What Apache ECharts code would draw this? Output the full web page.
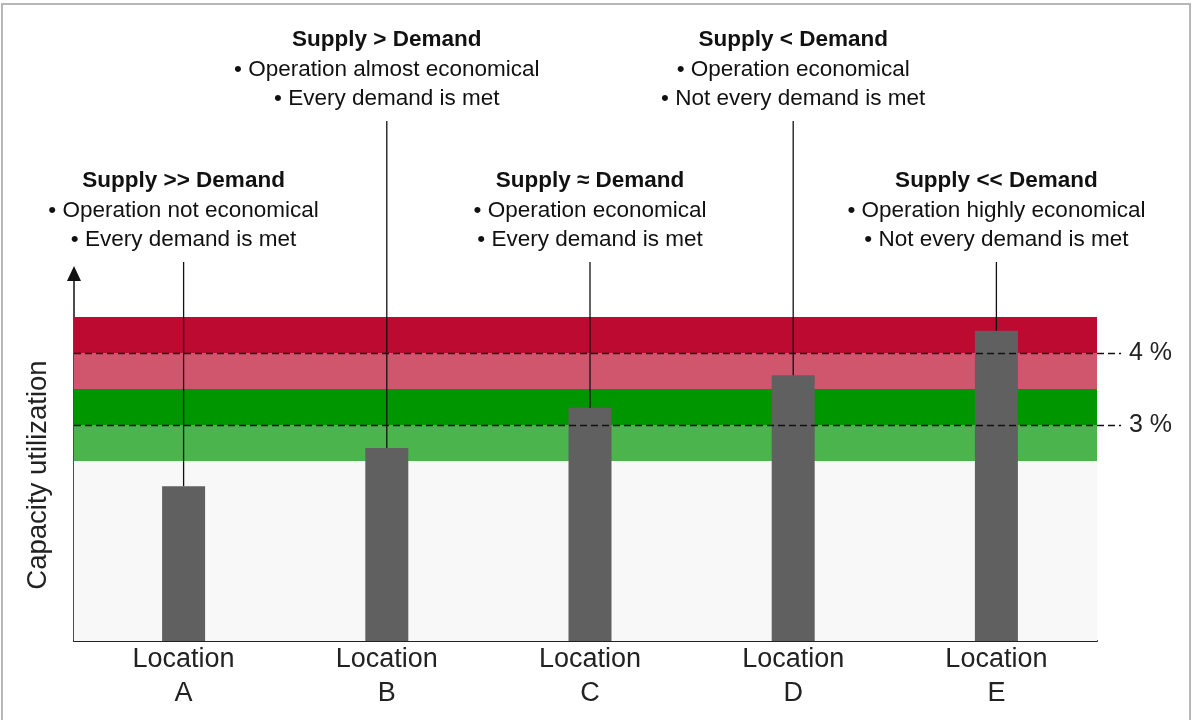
<!DOCTYPE html>
<html>
<head>
<meta charset="utf-8">
<script src="https://cdn.jsdelivr.net/npm/echarts@6/dist/echarts.min.js"></script>
<style>
  html, body { margin: 0; padding: 0; background: #fff; overflow: hidden; }
  #chart { position: absolute; left: 0; top: 0; width: 1192px; height: 720px; }
  #frame { position: absolute; left: 1px; top: 3px; width: 1186px; height: 730px;
           border: 2px solid #b8b8b8; pointer-events: none; }
</style>
</head>
<body>
<div id="chart"></div>
<div id="frame"></div>
<script>
// Locations and their capacity utilization (%)
const locations = ['A', 'B', 'C', 'D', 'E'];
const utilization = [2.15, 2.68, 3.24, 3.69, 4.31];

// Annotation text per location
const headlines = ['Supply >> Demand', 'Supply > Demand', 'Supply \u2248 Demand', 'Supply < Demand', 'Supply << Demand'];
const economics = ['Operation not economical', 'Operation almost economical', 'Operation economical', 'Operation economical', 'Operation highly economical'];
const coverage = ['Every demand is met', 'Every demand is met', 'Every demand is met', 'Not every demand is met', 'Not every demand is met'];

// Utilization zones (lower edge, upper edge)
const zoneEdges = [0, 2.5, 3, 3.5, 4, 4.5];
const zoneColors = ['#f8f8f8', '#4bb44d', '#009600', '#d0566e', '#bc0a30'];

// Reference thresholds
const thresholds = [3, 4];
const thresholdLabels = ['3 %', '4 %'];

const FONT = 'Liberation Sans, Arial, sans-serif';
const Y_MIN = 0, Y_MAX = 5;

const chart = echarts.init(document.getElementById('chart'), null, { renderer: 'canvas' });

const zoneAreas = zoneColors.map((c, i) => [
  { yAxis: zoneEdges[i], itemStyle: { color: c } },
  { yAxis: zoneEdges[i + 1] }
]);

const annotationData = utilization.map((v, i) => [i, v]);

// vertical placement of the annotation blocks (title centre), alternating rows
const ROW_Y = [181, 40];
const LINE_H = 29.5;

function renderAnnotation(params, api) {
  const i = api.value(0);
  const top = api.coord([i, api.value(1)]);
  const x = top[0];
  const y0 = ROW_Y[i % 2];
  const txt = (t, y, bold) => ({
    type: 'text',
    style: {
      text: t, x: x, y: y, align: 'center', verticalAlign: 'middle',
      fontFamily: FONT, fontSize: 22.5, fontWeight: bold ? 'bold' : 'normal', fill: '#111'
    }
  });
  return {
    type: 'group',
    children: [
      {
        type: 'line',
        shape: { x1: x, y1: y0 + 2 * LINE_H + 22, x2: x, y2: top[1] },
        style: { stroke: '#111', lineWidth: 1.3 }
      },
      txt(headlines[i], y0, true),
      txt('\u2022 ' + economics[i], y0 + LINE_H, false),
      txt('\u2022 ' + coverage[i], y0 + 2 * LINE_H, false)
    ]
  };
}

const option = {
  animation: false,
  backgroundColor: '#ffffff',
  grid: [
    // zones and axes
    { left: 74, right: 95, top: 281, bottom: 79 },
    // bars
    { left: 82, right: 94, top: 281, bottom: 79 },
    // threshold lines
    { left: 74, right: 71, top: 281, bottom: 79 }
  ],
  xAxis: [
    {
      gridIndex: 0, type: 'value', min: 0, max: 1,
      axisLine: { show: true, onZero: false, lineStyle: { color: '#222', width: 2 } },
      axisTick: { show: false }, axisLabel: { show: false }, splitLine: { show: false }
    },
    {
      gridIndex: 1, type: 'category', data: locations,
      axisLine: { show: false }, axisTick: { show: false }, splitLine: { show: false },
      axisLabel: {
        formatter: 'Location\n{value}', fontFamily: FONT, fontSize: 27,
        lineHeight: 34, color: '#222', margin: 2
      }
    },
    {
      gridIndex: 2, type: 'value', min: 0, max: 1, show: false
    }
  ],
  yAxis: [
    {
      gridIndex: 0, type: 'value', min: Y_MIN, max: Y_MAX,
      axisLine: {
        show: true, lineStyle: { color: '#111', width: 1.5 },
        symbol: ['none', 'triangle'], symbolSize: [14, 15], symbolOffset: [0, 7.5]
      },
      axisTick: { show: false }, axisLabel: { show: false }, splitLine: { show: false },
      name: 'Capacity utilization', nameLocation: 'middle', nameGap: 22,
      nameTextStyle: { fontFamily: FONT, fontSize: 27.5, color: '#222', padding: [0, 28, 0, 0] }
    },
    { gridIndex: 1, type: 'value', min: Y_MIN, max: Y_MAX, show: false },
    { gridIndex: 2, type: 'value', min: Y_MIN, max: Y_MAX, show: false }
  ],
  series: [
    {
      name: 'zones', type: 'line', xAxisIndex: 0, yAxisIndex: 0, data: [],
      z: 1, silent: true,
      markArea: { silent: true, data: zoneAreas }
    },
    {
      name: 'utilization', type: 'bar', xAxisIndex: 1, yAxisIndex: 1,
      data: utilization, barWidth: 43, z: 3,
      itemStyle: { color: '#606060' }
    },
    {
      name: 'thresholds', type: 'line', xAxisIndex: 2, yAxisIndex: 2, data: [],
      z: 5, silent: true,
      markLine: {
        silent: true, symbol: ['none', 'none'],
        lineStyle: { color: '#111', type: [7, 4], width: 1.4 },
        label: {
          position: 'end', distance: 8, fontFamily: FONT, fontSize: 25, color: '#222',
          formatter: (p) => thresholdLabels[thresholds.indexOf(p.value)]
        },
        data: thresholds.map((t) => ({ yAxis: t }))
      }
    },
    {
      name: 'annotations', type: 'custom', xAxisIndex: 1, yAxisIndex: 1,
      data: annotationData, z: 6, clip: false, silent: true,
      renderItem: renderAnnotation
    }
  ]
};

chart.setOption(option);
</script>
</body>
</html>
